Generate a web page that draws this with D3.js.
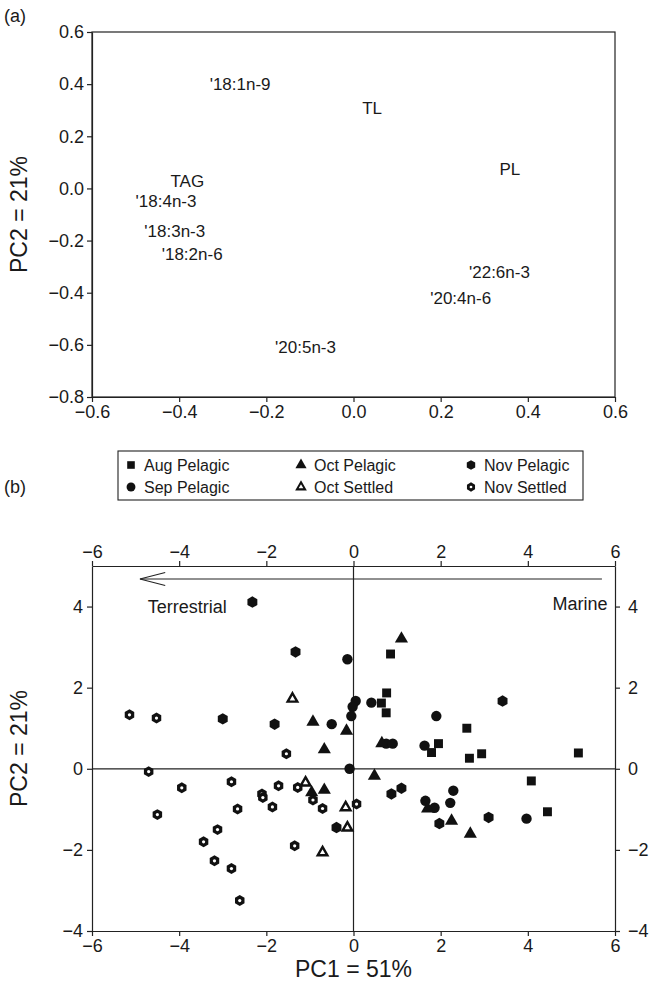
<!DOCTYPE html>
<html>
<head>
<meta charset="utf-8">
<script src="https://cdn.jsdelivr.net/npm/d3@7"></script>
<style>
  body { margin: 0; background: #fff; }
  text { font-family: "Liberation Sans", Arial, sans-serif; fill: #1a1a1a; }
  .axis path, .axis line { stroke: #222; stroke-width: 1.2; }
  .axis text { font-size: 18px; font-family: "Liberation Sans", Arial, sans-serif; fill: #1a1a1a; }
</style>
</head>
<body>
<div id="chart-area"></div>
<script>
/*
*    PCA loadings (a) and scores (b)
*/
// ---- panel (a) loadings
var loadingLabels = ["'18:1n-9", "TL", "PL", "TAG", "'18:4n-3", "'18:3n-3", "'18:2n-6", "'22:6n-3", "'20:4n-6", "'20:5n-3"]
var loadingX = [-0.33, 0.02, 0.335, -0.42, -0.50, -0.48, -0.44, 0.265, 0.176, -0.18]
var loadingY = [0.40, 0.31, 0.073, 0.027, -0.05, -0.165, -0.25, -0.32, -0.42, -0.61]
var aTicksX = [-0.6, -0.4, -0.2, 0.0, 0.2, 0.4, 0.6]
var aTicksY = [-0.8, -0.6, -0.4, -0.2, 0.0, 0.2, 0.4, 0.6]

// ---- panel (b) scores, [PC1, PC2]
var augPelagic = [[0.85, 2.83], [0.76, 1.87], [0.64, 1.62], [0.75, 1.38], [2.6, 1.0], [1.95, 0.62], [1.79, 0.4],
  [2.66, 0.26], [2.94, 0.37], [5.16, 0.39], [4.08, -0.3], [4.45, -1.06]]
var sepPelagic = [[-0.14, 2.7], [-0.5, 1.1], [0.05, 1.67], [-0.02, 1.53], [-0.05, 1.3], [0.41, 1.63], [1.9, 1.3],
  [0.75, 0.62], [0.9, 0.62], [1.63, 0.57], [-0.09, 0.0], [1.65, -0.79], [1.86, -0.96], [2.29, -0.54], [2.22, -0.84], [3.97, -1.23]]
var octPelagic = [[1.1, 3.23], [-0.93, 1.18], [-0.16, 0.96], [-0.67, 0.5], [0.65, 0.65], [0.48, -0.15], [-0.96, -0.56],
  [-0.67, -0.5], [1.7, -0.96], [2.25, -1.26], [2.68, -1.58]]
var octSettled = [[-1.4, 1.75], [-1.1, -0.32], [-0.18, -0.93], [-0.14, -1.43], [-0.71, -2.04]]
var novPelagic = [[-2.32, 4.11], [-1.33, 2.88], [-3.0, 1.23], [-1.81, 1.1], [3.42, 1.67], [-0.39, -1.45], [0.87, -0.62],
  [1.1, -0.48], [1.97, -1.35], [3.1, -1.2]]
var novSettled = [[-5.14, 1.33], [-4.52, 1.25], [-4.7, -0.07], [-3.94, -0.47], [-4.5, -1.13], [-2.8, -0.32], [-2.66, -0.99],
  [-3.12, -1.5], [-3.44, -1.8], [-3.19, -2.27], [-2.8, -2.46], [-2.61, -3.25], [-2.1, -0.62], [-2.08, -0.71], [-1.86, -0.94],
  [-1.72, -0.42], [-1.54, 0.37], [-1.28, -0.46], [-0.93, -0.77], [-0.71, -0.98], [-1.35, -1.9], [0.07, -0.87]]
var legendNames = ["Aug Pelagic", "Sep Pelagic", "Oct Pelagic", "Oct Settled", "Nov Pelagic", "Nov Settled"]
var bTicksX = [-6, -4, -2, 0, 2, 4, 6]
var bTicksY = [-4, -2, 0, 2, 4]
// arrow along the top: from, to, level (PC1/PC2 units)
var arrowPC1 = [5.7, -4.9]
var arrowPC2 = 4.68

var width = 649
var height = 987

var svg = d3.select("#chart-area")
  .append("svg")
  .attr("width", width)
  .attr("height", height)

// custom hexagon symbol (pointy top)
var symbolHexagon = {
  draw: function (ctx, size) {
    var r = Math.sqrt(size * 2 / (3 * Math.sqrt(3)))
    for (var i = 0; i < 6; i++) {
      var a = Math.PI / 3 * i - Math.PI / 2
      if (i == 0) ctx.moveTo(r * Math.cos(a), r * Math.sin(a))
      else ctx.lineTo(r * Math.cos(a), r * Math.sin(a))
    }
    ctx.closePath()
  }
}

/* ---------------- (a) ---------------- */
var xa = d3.scaleLinear().domain([-0.6, 0.6]).range([92, 615])
var ya = d3.scaleLinear().domain([-0.8, 0.6]).range([397, 32])
var ga = svg.append("g")

ga.append("rect")
  .attr("x", xa(-0.6)).attr("y", ya(0.6))
  .attr("width", xa(0.6) - xa(-0.6)).attr("height", ya(-0.8) - ya(0.6))
  .attr("fill", "none").attr("stroke", "#222").attr("stroke-width", 1.2)

ga.append("g").attr("class", "axis")
  .attr("transform", `translate(${xa(-0.6)},0)`)
  .call(d3.axisLeft(ya).tickValues(aTicksY).tickFormat(d3.format(".1f")).tickSize(5).tickSizeOuter(0).tickPadding(3))
ga.append("g").attr("class", "axis")
  .attr("transform", `translate(0,${ya(-0.8)})`)
  .call(d3.axisBottom(xa).tickValues(aTicksX).tickFormat(d3.format(".1f")).tickSize(5).tickSizeOuter(0).tickPadding(3))

ga.selectAll(".load")
  .data(loadingLabels)
  .enter().append("text")
  .attr("class", "load")
  .attr("x", (d, i) => xa(loadingX[i]))
  .attr("y", (d, i) => ya(loadingY[i]))
  .attr("dy", "0.35em")
  .attr("font-size", "17px")
  .text(d => d)

ga.append("text")
  .attr("transform", `translate(27,${(ya(0.6) + ya(-0.8)) / 2}) rotate(-90)`)
  .attr("text-anchor", "middle")
  .attr("font-size", "23px")
  .text("PC2 = 21%")
ga.append("text").attr("x", 4).attr("y", 22).attr("font-size", "18px").text("(a)")

/* ---------------- (b) ---------------- */
var xb = d3.scaleLinear().domain([-6, 6]).range([92, 615])
var yb = d3.scaleLinear().domain([-4, 5]).range([931, 566])
var gb = svg.append("g")

gb.append("g").attr("class", "axis")
  .attr("transform", `translate(${xb(-6)},0)`)
  .call(d3.axisLeft(yb).tickValues(bTicksY).tickFormat(d3.format("d")).tickSize(5).tickSizeOuter(0).tickPadding(4))
gb.append("g").attr("class", "axis")
  .attr("transform", `translate(${xb(6)},0)`)
  .call(d3.axisRight(yb).tickValues(bTicksY).tickFormat(d3.format("d")).tickSize(5).tickSizeOuter(0).tickPadding(8))
gb.append("g").attr("class", "axis")
  .attr("transform", `translate(0,${yb(-4)})`)
  .call(d3.axisBottom(xb).tickValues(bTicksX).tickFormat(d3.format("d")).tickSize(5).tickSizeOuter(0).tickPadding(3))
gb.append("g").attr("class", "axis")
  .attr("transform", `translate(0,${yb(5)})`)
  .call(d3.axisTop(xb).tickValues(bTicksX).tickFormat(d3.format("d")).tickSize(5).tickSizeOuter(0).tickPadding(3))

// zero lines
gb.append("line")
  .attr("x1", xb(-6)).attr("x2", xb(6)).attr("y1", yb(0)).attr("y2", yb(0))
  .attr("stroke", "#222").attr("stroke-width", 1.2)
gb.append("line")
  .attr("x1", xb(0)).attr("x2", xb(0)).attr("y1", yb(-4)).attr("y2", yb(5))
  .attr("stroke", "#222").attr("stroke-width", 1.2)

// arrow Marine -> Terrestrial
gb.append("line")
  .attr("x1", xb(arrowPC1[0])).attr("x2", xb(arrowPC1[1]))
  .attr("y1", yb(arrowPC2)).attr("y2", yb(arrowPC2))
  .attr("stroke", "#222").attr("stroke-width", 1.1)
gb.append("path")
  .attr("d", `M${xb(arrowPC1[1] + 0.58)},${yb(arrowPC2 + 0.16)} L${xb(arrowPC1[1])},${yb(arrowPC2)} L${xb(arrowPC1[1] + 0.58)},${yb(arrowPC2 - 0.16)}`)
  .attr("fill", "none").attr("stroke", "#222").attr("stroke-width", 1.1)

gb.append("text").attr("x", xb(-4.72)).attr("y", yb(3.99)).attr("dy", "0.35em")
  .attr("font-size", "18px").text("Terrestrial")
gb.append("text").attr("x", xb(5.83)).attr("y", yb(4.06)).attr("dy", "0.35em")
  .attr("text-anchor", "end").attr("font-size", "18px").text("Marine")

// series
var series = [
  {name: legendNames[0], data: augPelagic, type: d3.symbolSquare, size: 80, open: false},
  {name: legendNames[1], data: sepPelagic, type: d3.symbolCircle, size: 85, open: false},
  {name: legendNames[2], data: octPelagic, type: d3.symbolTriangle, size: 75, open: false},
  {name: legendNames[3], data: octSettled, type: d3.symbolTriangle, size: 40, open: true},
  {name: legendNames[4], data: novPelagic, type: symbolHexagon, size: 85, open: false},
  {name: legendNames[5], data: novSettled, type: symbolHexagon, size: 78, open: true}
]

function drawMarker(sel, s) {
  var sym = d3.symbol().type(s.type).size(s.size)
  if (s.type === symbolHexagon && s.open) {
    sel.append("path").attr("d", sym()).attr("fill", "#111")
    sel.append("circle").attr("r", 1.6).attr("fill", "#fff")
  } else if (s.open) {
    sel.append("path").attr("d", sym()).attr("fill", "#fff").attr("stroke", "#111").attr("stroke-width", 2.4)
      .attr("stroke-linejoin", "miter")
  } else {
    sel.append("path").attr("d", sym()).attr("fill", "#111")
  }
}

series.forEach(function (s) {
  gb.selectAll(null)
    .data(s.data)
    .enter().append("g")
    .attr("transform", d => `translate(${xb(d[0])},${yb(d[1]) + (s.type === d3.symbolTriangle ? 1 : 0)})`)
    .each(function () { drawMarker(d3.select(this), s) })
})

// legend
var legend = gb.append("g")
legend.append("rect")
  .attr("x", 118).attr("y", 451).attr("width", 465).attr("height", 49)
  .attr("fill", "#fff").attr("stroke", "#222").attr("stroke-width", 1.1)
series.forEach(function (s, i) {
  var col = Math.floor(i / 2), row = i % 2
  var item = legend.append("g").attr("transform", `translate(${131 + col * 170},${465 + row * 22})`)
  drawMarker(item.append("g").attr("transform", "scale(0.85)"), s)
  item.append("text").attr("x", 13).attr("dy", "0.35em").attr("font-size", "16px").text(s.name)
})

gb.append("text")
  .attr("transform", `translate(27,${(yb(5) + yb(-4)) / 2}) rotate(-90)`)
  .attr("text-anchor", "middle")
  .attr("font-size", "23px")
  .text("PC2 = 21%")
gb.append("text")
  .attr("x", xb(0)).attr("y", 977)
  .attr("text-anchor", "middle")
  .attr("font-size", "23px")
  .text("PC1 = 51%")
gb.append("text").attr("x", 4).attr("y", 493).attr("font-size", "18px").text("(b)")
</script>
</body>
</html>
